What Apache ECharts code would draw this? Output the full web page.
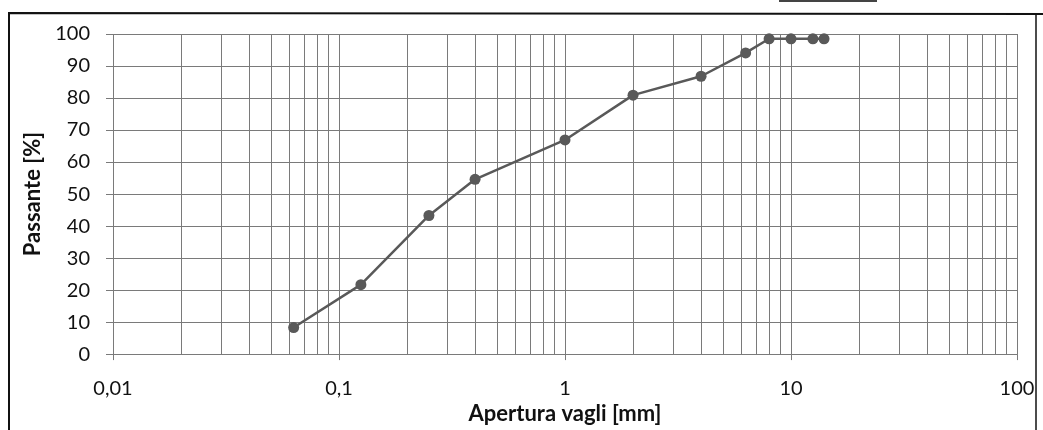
<!DOCTYPE html>
<html>
<head>
<meta charset="utf-8">
<script src="https://cdn.jsdelivr.net/npm/echarts@6/dist/echarts.min.js"></script>
<style>
html,body{margin:0;padding:0;background:#fff;}
#c{width:1043px;height:430px;}
</style>
</head>
<body>
<div id="c"></div>
<script>
// Sieve openings (mm) and passing percentages
const apertures = [0.063, 0.125, 0.25, 0.4, 1, 2, 4, 6.3, 8, 10, 12.5, 14];
const passing   = [8.3, 21.7, 43.3, 54.6, 66.9, 80.9, 86.8, 94.1, 98.5, 98.5, 98.5, 98.5];
// Minor vertical grid lines of the log paper
const minorGrid = [
  0.02, 0.03, 0.04, 0.05, 0.06, 0.07, 0.08, 0.09,
  0.2, 0.3, 0.4, 0.5, 0.6, 0.7, 0.8, 0.9,
  2, 3, 4, 5, 6, 7, 8, 9,
  20, 30, 40, 50, 60, 70, 80, 90
];
const xTitle = 'Apertura vagli [mm]';
const yTitle = 'Passante [%]';

const FONT = 'Lato, "Open Sans", sans-serif';
const GRIDC = '#7a7a7a';

const chart = echarts.init(document.getElementById('c'), null, {renderer: 'canvas'});
chart.setOption({
  animation: false,
  backgroundColor: '#fff',
  grid: {left: 113, right: 26, top: 34, bottom: 74},
  xAxis: {
    type: 'log', logBase: 10, min: 0.01, max: 100,
    name: xTitle, nameLocation: 'middle', nameGap: 45,
    nameTextStyle: {fontFamily: FONT, fontSize: 22, fontWeight: 'bold', color: '#111'},
    axisLine: {show: true, lineStyle: {color: GRIDC, width: 1}},
    axisTick: {show: true, length: 6, lineStyle: {color: GRIDC}},
    axisLabel: {
      fontFamily: FONT, fontSize: 20, color: '#111', margin: 24,
      formatter: v => String(v).replace('.', ',')
    },
    splitLine: {show: true, lineStyle: {color: GRIDC, width: 1}}
  },
  yAxis: {
    type: 'value', min: 0, max: 100, interval: 10,
    name: yTitle, nameLocation: 'middle', nameGap: 67, nameRotate: 90,
    nameTextStyle: {fontFamily: FONT, fontSize: 22, fontWeight: 'bold', color: '#111'},
    axisLine: {show: false},
    axisTick: {show: true, length: 7, lineStyle: {color: GRIDC}},
    axisLabel: {fontFamily: FONT, fontSize: 20, color: '#111', margin: 23},
    splitLine: {show: true, lineStyle: {color: GRIDC, width: 1}}
  },
  series: [{
    type: 'line',
    data: apertures.map((a, i) => [a, passing[i]]),
    symbol: 'circle', symbolSize: 11,
    itemStyle: {color: '#595959'},
    lineStyle: {color: '#595959', width: 2.5},
    z: 5,
    markLine: {
      silent: true, symbol: 'none', animation: false,
      label: {show: false},
      lineStyle: {color: GRIDC, width: 1, type: 'solid'},
      z: 1,
      data: minorGrid.map(v => ({xAxis: v}))
    }
  }],
  graphic: [
    {type: 'polyline', shape: {points: [[9, 430], [9, 13], [1043, 14]]},
     style: {stroke: '#111', lineWidth: 2, fill: null}, silent: true},
    {type: 'line', shape: {x1: 1036, y1: 14, x2: 1036, y2: 430},
     style: {stroke: '#111', lineWidth: 1.5}, silent: true},
    {type: 'rect', shape: {x: 779, y: 0, width: 98, height: 2},
     style: {fill: '#444'}, silent: true}
  ]
});
</script>
</body>
</html>
